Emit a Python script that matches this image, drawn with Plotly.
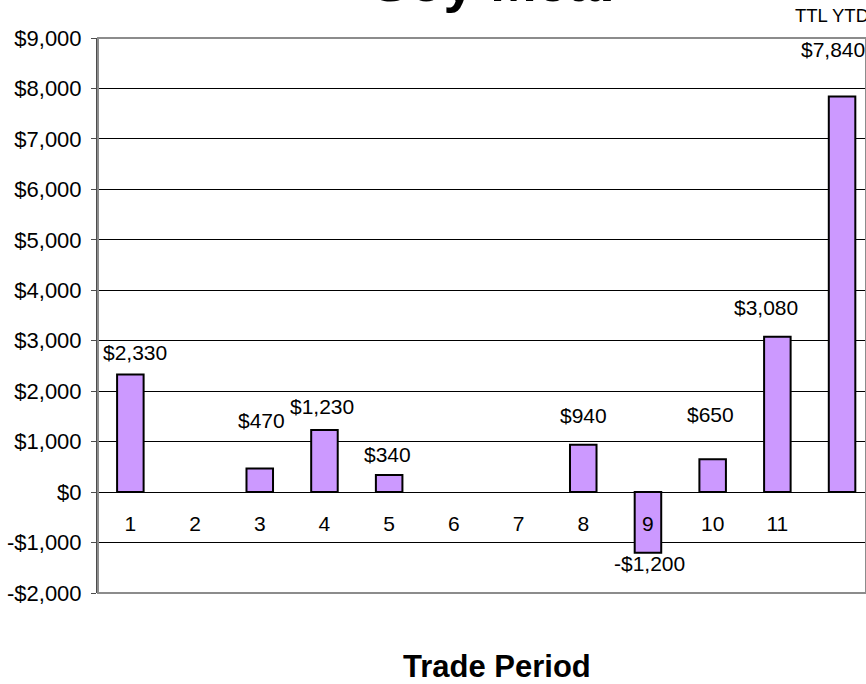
import plotly.graph_objects as go

# data
periods = ["1", "2", "3", "4", "5", "6", "7", "8", "9", "10", "11", "TTL YTD"]
pnl = [2330, None, 470, 1230, 340, None, None, 940, -1200, 650, 3080, 7840]
y_ticks = [-2000, -1000, 0, 1000, 2000, 3000, 4000, 5000, 6000, 7000, 8000, 9000]

# hand placed label nudges (pixels) as in the original chart
label_dx = [5, 0, 2, -2, -2, 0, 0, 0, 2, -2, -11, -9]
label_dy = [22, 0, 48, 24, 20, 0, 0, 29, -11, 45, 29, 47]

FONT = "Arial, Liberation Sans, sans-serif"


def money(v):
    return f"-${abs(v):,}" if v < 0 else f"${v:,}"


fig = go.Figure()
fig.add_trace(go.Bar(
    x=periods, y=pnl,
    marker=dict(color="#CC99FF", line=dict(color="black", width=2)),
    width=0.41,
))

# category axis: use the position index so "1", "2"... aren't read as numbers
for i, (val, dx, dy) in enumerate(zip(pnl, label_dx, label_dy)):
    if val is None:
        continue
    fig.add_annotation(x=i, y=val, text=money(val), showarrow=False,
                       xshift=dx, yshift=dy, yanchor="middle",
                       font=dict(family=FONT, size=21, color="black"))

# last category name sits above the plot in the original
fig.add_annotation(x=len(periods) - 1, y=1, yref="paper", text=periods[-1],
                   showarrow=False, xshift=-10, yshift=23, yanchor="middle",
                   font=dict(family=FONT, size=18.5, color="black"))

fig.add_annotation(x=0.515, y=1, xref="paper", yref="paper", text="<b>Soy Meal</b>",
                   showarrow=False, yshift=57, yanchor="middle",
                   font=dict(family=FONT, size=56, color="black"))

fig.add_annotation(x=0.52, y=-0.1333, xref="paper", yref="paper",
                   text="<b>Trade Period</b>", showarrow=False, yanchor="middle",
                   font=dict(family=FONT, size=31, color="black"))

# plot border
fig.add_shape(type="rect", xref="paper", yref="paper", x0=0, x1=1, y0=0, y1=1,
              line=dict(color="#8c8c8c", width=2), layer="above")

fig.update_layout(
    width=866, height=684,
    margin=dict(l=98, r=0, t=38, b=91),
    paper_bgcolor="white", plot_bgcolor="white",
    showlegend=False,
    font=dict(family=FONT, size=21, color="black"),
    xaxis=dict(
        range=[-0.5, 11.37],
        tickvals=periods[:-1],
        ticks="", showgrid=False,
        anchor="free", position=2000 / 11000,
        showline=True, linecolor="black", linewidth=1,
        tickfont=dict(size=21), ticklabelstandoff=13,
    ),
    yaxis=dict(
        range=[-2000, 9000],
        tickvals=y_ticks, ticktext=[money(v) for v in y_ticks],
        showgrid=True, gridcolor="black", gridwidth=1,
        zeroline=True, zerolinecolor="black", zerolinewidth=1,
        showline=True, linecolor="#4d4d4d", linewidth=2,
        ticks="outside", ticklen=5, tickcolor="#4d4d4d",
        tickfont=dict(size=22), ticklabelstandoff=5,
    ),
)

fig.write_html("out.html", config={"displayModeBar": False},
               post_script="document.body.style.margin='0';"
                           "document.body.style.overflow='hidden';")
